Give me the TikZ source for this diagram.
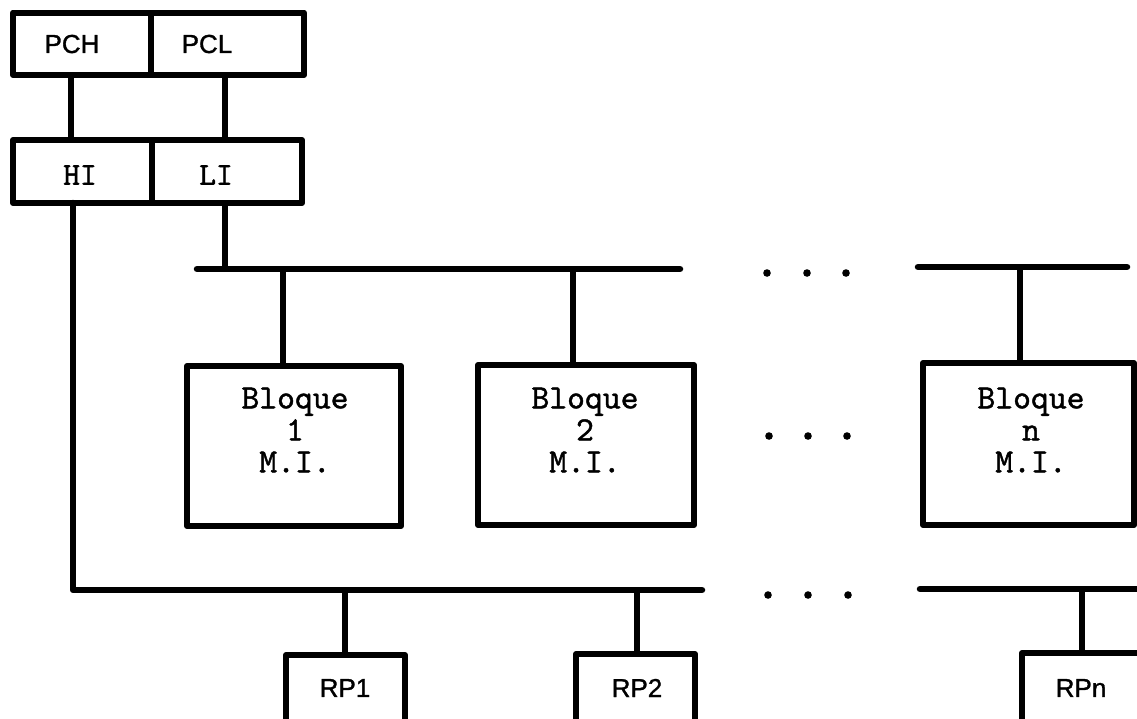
\documentclass[tikz,border=0pt]{standalone}
\usepackage{fontspec}
\newfontfamily\lblfont[FakeBold=1.2]{Liberation Sans}
\newfontfamily\blkfont[FakeBold=1.2]{lmmono10-regular.otf}
\begin{document}
\begin{tikzpicture}[x=1pt,y=-1pt,
  box/.style={draw, line width=6pt, inner sep=0pt, outer sep=0pt, line join=round},
  bus/.style={line width=6.5pt, line cap=round, line join=round},
  wire/.style={line width=6pt},
  sanslbl/.style={font=\lblfont\fontsize{26}{30}\selectfont, inner sep=0pt},
  ttlbl/.style={font=\blkfont\fontsize{32}{32}\selectfont, inner sep=0pt},
  monolbl/.style={font=\blkfont\fontsize{34}{32}\selectfont, align=center, inner sep=0pt}]
\useasboundingbox (0,0) rectangle (1137,718);
\clip (0,0) rectangle (1137,718);

% registers
\node[box, minimum width=137.5pt, minimum height=62.5pt] (pch) at (81.75,43.75) {};
\node[box, minimum width=153.5pt, minimum height=62.5pt] (pcl) at (227.25,43.75) {};
\node[box, minimum width=139pt, minimum height=63pt] (hi) at (82.5,171.5) {};
\node[box, minimum width=150pt, minimum height=63pt] (li) at (227,171.5) {};
\node[sanslbl] (pchT) at (72,44) {PCH};
\node[sanslbl] (pclT) at (207,44) {PCL};
\node[ttlbl] (hiT) at (80,175) {HI};
\node[ttlbl] (liT) at (216,175) {LI};

% memory blocks
\node[box, minimum width=214pt, minimum height=160pt] (b1) at (294,446) {};
\node[box, minimum width=216pt, minimum height=160pt] (b2) at (586,445) {};
\node[box, minimum width=211pt, minimum height=162pt] (bn) at (1028.5,444) {};
\node[monolbl] (b1T) at (295,430) {Bloque\\1\\M.I.};
\node[monolbl] (b2T) at (585,430) {Bloque\\2\\M.I.};
\node[monolbl] (bnT) at (1031,430) {Bloque\\n\\M.I.};

% RP boxes
\node[box, minimum width=119pt, minimum height=105pt] (rp1) at (345.5,707.5) {};
\node[box, minimum width=119pt, minimum height=106pt] (rp2) at (635.5,707) {};
\node[box, minimum width=123pt, minimum height=106pt] (rpn) at (1083.5,706) {};
\node[sanslbl] (rp1T) at (345,688) {RP1};
\node[sanslbl] (rp2T) at (637,688) {RP2};
\node[sanslbl] (rpnT) at (1081,688) {RPn};

% bus end points
\coordinate (tbL1) at (197,269);
\coordinate (tbR1) at (680,269);
\coordinate (tbL2) at (918,267);
\coordinate (tbR2) at (1127,267);
\coordinate (bbR1) at (702,590);
\coordinate (bbL2) at (920,589);
\coordinate (bbR2) at (1150,589);

% register connectors
\draw[wire] ([xshift=-11pt]pch.south) -- ([xshift=-11pt]pch.south |- hi.north);
\draw[wire] ([xshift=-2.25pt]pcl.south) -- ([xshift=-2.25pt]pcl.south |- li.north);
\draw[wire] ([xshift=-2pt]li.south) -- ([xshift=-2pt]li.south |- tbL1);
\draw[bus] ([xshift=-9.5pt]hi.south) |- (bbR1);

% buses
\draw[bus] (tbL1) -- (tbR1);
\draw[bus] (tbL2) -- (tbR2);
\draw[bus] (bbL2) -- (bbR2);

% block connectors
\draw[wire] ([xshift=-11pt]b1.north) -- ([xshift=-11pt]b1.north |- tbL1);
\draw[wire] ([xshift=-13pt]b2.north) -- ([xshift=-13pt]b2.north |- tbL1);
\draw[wire] ([xshift=-8.5pt]bn.north) -- ([xshift=-8.5pt]bn.north |- tbL2);

% RP connectors
\draw[wire] ([xshift=-0.5pt]rp1.north) -- ([xshift=-0.5pt]rp1.north |- bbR1);
\draw[wire] ([xshift=1.5pt]rp2.north) -- ([xshift=1.5pt]rp2.north |- bbR1);
\draw[wire] ([xshift=-1.5pt]rpn.north) -- ([xshift=-1.5pt]rpn.north |- bbL2);

% ellipsis dots
\foreach \x/\y in {767/273, 807/273, 846/273, 769/436, 808/436, 847/436, 768/595, 808/595, 848/595}
  \fill (\x,\y) circle[radius=3.8pt];
\end{tikzpicture}
\end{document}
